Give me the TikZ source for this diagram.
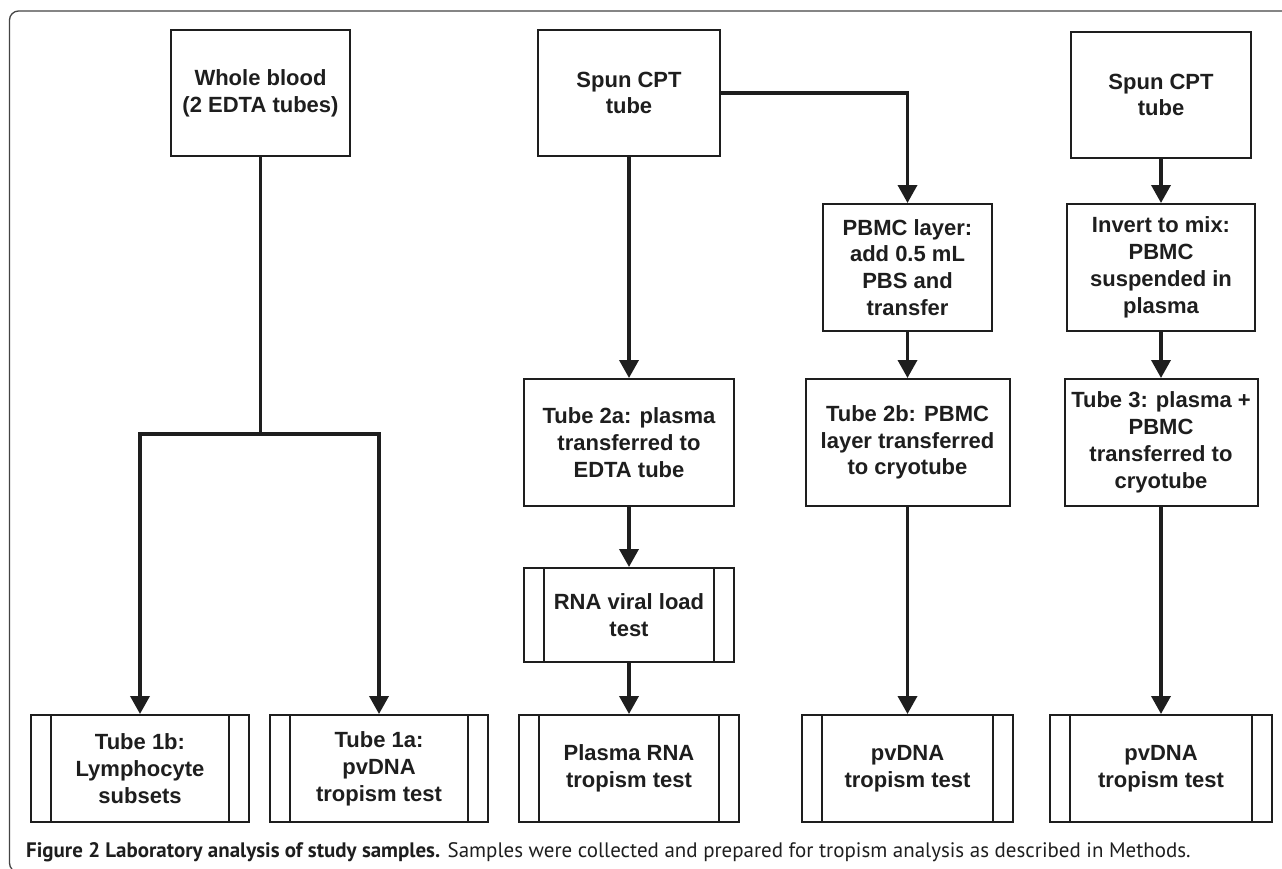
\documentclass[tikz,border=0pt]{standalone}
\usepackage{fontspec}
\setmainfont{Liberation Sans}
\newfontfamily\capfont{PT Sans}
\usetikzlibrary{arrows.meta}
\definecolor{ink}{HTML}{1E1E1E}
\definecolor{framec}{HTML}{444444}
\tikzset{
  box/.style={draw=ink, line width=2pt, rectangle, inner sep=0pt, align=center,
    text=ink, font=\fontsize{22}{26.8}\selectfont\bfseries},
  proc/.style={box, path picture={
      \draw[ink, line width=2pt] ([xshift=20pt]path picture bounding box.north west) -- ([xshift=20pt]path picture bounding box.south west);
      \draw[ink, line width=2pt] ([xshift=-20pt]path picture bounding box.north east) -- ([xshift=-20pt]path picture bounding box.south east);
    }},
  conn/.style={draw=ink, line width=3.6pt},
  arr/.style={conn, -{Triangle[length=18pt, width=19pt]}},
}
\begin{document}
\begin{tikzpicture}[x=1pt, y=-1pt]
\useasboundingbox (0,0) rectangle (1282,868);
\clip (0,0) rectangle (1282,868);
\fill[white] (0,0) rectangle (1282,868);
% frame
\draw[framec, line width=1.3pt, rounded corners=9pt] (9.5,11) rectangle (1300,872);

% top row
\node[box, minimum width=179pt, minimum height=126pt] (wb) at (260.5,93) {Whole blood\\(2 EDTA tubes)};
\node[box, minimum width=182pt, minimum height=126pt] (cpt1) at (629,93) {Spun CPT\\tube};
\node[box, minimum width=180pt, minimum height=126pt] (cpt2) at (1161,95) {Spun CPT\\tube};

% second row
\node[box, minimum width=169pt, minimum height=127pt] (pbmc) at (907.5,267.5) {PBMC layer:\\add 0.5 mL\\PBS and\\transfer};
\node[box, minimum width=188pt, minimum height=127pt] (inv) at (1161,267.5) {Invert to mix:\\PBMC\\suspended in\\plasma};

% third row
\node[box, minimum width=210pt, minimum height=127pt] (t2a) at (629,442.5) {Tube 2a: plasma\\transferred to\\EDTA tube};
\node[box, minimum width=204pt, minimum height=127pt] (t2b) at (907.5,442.5) {Tube 2b: PBMC\\layer transferred\\to cryotube};
\node[box, minimum width=193pt, minimum height=127pt] (t3) at (1161,442.5) {Tube 3: plasma +\\PBMC\\transferred to\\cryotube};

% RNA viral load
\node[proc, minimum width=210pt, minimum height=94pt] (rna) at (629,615) {RNA viral load\\test};

% bottom row
\node[proc, minimum width=218pt, minimum height=107pt] (t1b) at (140,768.5) {Tube 1b:\\Lymphocyte\\subsets};
\node[proc, minimum width=218pt, minimum height=107pt] (t1a) at (379,768.5) {Tube 1a:\\pvDNA\\tropism test};
\node[proc, minimum width=220pt, minimum height=107pt] (prna) at (629,768.5) {Plasma RNA\\tropism test};
\node[proc, minimum width=211pt, minimum height=107pt] (pv1) at (907.5,768.5) {pvDNA\\tropism test};
\node[proc, minimum width=222pt, minimum height=107pt] (pv2) at (1161,768.5) {pvDNA\\tropism test};

% connectors
\coordinate (j) at (260.5,434);
\draw[conn] (wb.south) -- (j);
\draw[conn] ([xshift=-1.8pt]t1b.north |- j) -- ([xshift=1.8pt]t1a.north |- j);
\draw[arr] (t1b.north |- j) -- (t1b.north);
\draw[arr] (t1a.north |- j) -- (t1a.north);
\draw[arr] (cpt1.south) -- (t2a.north);
\draw[arr] (cpt1.east) -| (pbmc.north);
\draw[arr] (pbmc.south) -- (t2b.north);
\draw[arr] (t2a.south) -- (rna.north);
\draw[arr] (rna.south) -- (prna.north);
\draw[arr] (t2b.south) -- (pv1.north);
\draw[arr] (cpt2.south) -- (inv.north);
\draw[arr] (inv.south) -- (t3.north);
\draw[arr] (t3.south) -- (pv2.north);

% caption
\node[anchor=base west, inner sep=0pt, text=ink, font=\capfont\fontsize{20.95}{24}\selectfont] (cap) at (26,857)
  {\textbf{Figure 2 Laboratory analysis of study samples.} Samples were collected and prepared for tropism analysis as described in Methods.};
\end{tikzpicture}
\end{document}
